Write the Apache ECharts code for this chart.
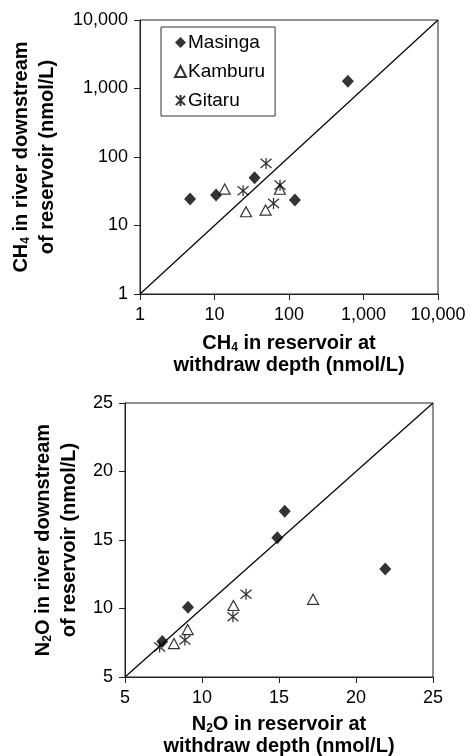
<!DOCTYPE html>
<html><head><meta charset="utf-8">
<script src="https://cdn.jsdelivr.net/npm/echarts@6/dist/echarts.min.js"></script>
<style>html,body{margin:0;padding:0;background:#fff}#c{width:470px;height:756px}</style>
</head><body><div id="c"></div>
<script>
const seriesNames = ['Masinga', 'Kamburu', 'Gitaru'];
const masingaCH4 = [[4.7, 24.4], [10.5, 27.8], [34.5, 49.7], [120, 23.6], [617, 1273]];
const kamburuCH4 = [[13.7, 34], [26.5, 15.9], [48.5, 16.8], [75.5, 33.8]];
const gitaruCH4 = [[24.2, 32.2], [49.2, 80.5], [62, 21], [75.8, 38.8]];
const masingaN2O = [[7.42, 7.6], [9.09, 10.1], [14.89, 15.17], [15.37, 17.09], [21.9, 12.88]];
const kamburuN2O = [[8.18, 7.44], [9.07, 8.46], [12.04, 10.22], [17.21, 10.67]];
const gitaruN2O = [[7.25, 7.19], [8.89, 7.7], [12.01, 9.4], [12.86, 11.04]];
const diagCH4 = [[1, 1], [10000, 10000]];
const diagN2O = [[5, 5], [25, 25]];
const ch4TickValues = [1, 10, 100, 1000, 10000];
const ch4TickLabels = ['1', '10', '100', '1,000', '10,000'];
const n2oTickValues = [5, 10, 15, 20, 25];
const n2oTickLabels = ['5', '10', '15', '20', '25'];

const FONT = 'Liberation Sans, Arial, sans-serif';
const INK = '#000';
const AX = '#222';
const asteriskPath = 'path://M0,0L10,10M10,0L0,10M5,-1L5,11';

function lookup(values, labels) {
  return function (v) {
    for (let i = 0; i < values.length; i++) {
      if (Math.abs(values[i] - v) / values[i] < 1e-6) return labels[i];
    }
    return '';
  };
}

const titleRich = {
  b: { fontFamily: FONT, fontSize: 20, fontWeight: 'bold', color: INK },
  s: { fontFamily: FONT, fontSize: 12, fontWeight: 'bold', color: INK, lineHeight: 12, padding: [10, 0, 0, 0] }
};
function nameStyle(lh) {
  const r = JSON.parse(JSON.stringify(titleRich));
  r.b.lineHeight = lh;
  return { fontFamily: FONT, fontSize: 20, fontWeight: 'bold', color: INK, lineHeight: lh, rich: r };
}

function axisCommon() {
  return {
    axisLine: { show: true, lineStyle: { color: AX, width: 1 } },
    axisTick: { show: true, inside: false, length: 6, lineStyle: { color: AX, width: 1 } },
    axisLabel: { fontFamily: FONT, fontSize: 18, color: INK, margin: 12 },
    splitLine: { show: false },
    minorTick: { show: false }
  };
}

const markerStyles = [
  { symbol: 'diamond', symbolSize: [12, 13], itemStyle: { color: INK, borderWidth: 0 } },
  { symbol: 'triangle', symbolSize: [11, 10], itemStyle: { color: '#fff', borderColor: INK, borderWidth: 1.2 } },
  { symbol: asteriskPath, symbolSize: 11, itemStyle: { color: 'transparent', borderColor: INK, borderWidth: 1.3 } }
];

const ch4Data = [masingaCH4, kamburuCH4, gitaruCH4];
const n2oData = [masingaN2O, kamburuN2O, gitaruN2O];

const series = [
  { type: 'line', name: 'diag1', xAxisIndex: 0, yAxisIndex: 0, data: diagCH4, symbol: 'none', silent: true,
    lineStyle: { color: INK, width: 1.2 }, z: 1 },
  { type: 'line', name: 'diag2', xAxisIndex: 1, yAxisIndex: 1, data: diagN2O, symbol: 'none', silent: true,
    lineStyle: { color: INK, width: 1.2 }, z: 1 }
];
seriesNames.forEach(function (n, i) {
  series.push(Object.assign({ type: 'scatter', name: n, xAxisIndex: 0, yAxisIndex: 0, data: ch4Data[i], z: 3 }, markerStyles[i]));
  series.push(Object.assign({ type: 'scatter', name: n, xAxisIndex: 1, yAxisIndex: 1, data: n2oData[i], z: 3 }, markerStyles[i]));
});

const chart = echarts.init(document.getElementById('c'), null, { renderer: 'canvas' });
chart.setOption({
  animation: false,
  backgroundColor: '#fff',
  grid: [
    { left: 140, top: 20, width: 298, height: 274, show: true, borderColor: AX, borderWidth: 1, backgroundColor: 'transparent', outerBoundsMode: 'none', containLabel: false },
    { left: 125, top: 403, width: 308, height: 274, show: true, borderColor: AX, borderWidth: 1, backgroundColor: 'transparent', outerBoundsMode: 'none', containLabel: false }
  ],
  legend: {
    data: seriesNames,
    orient: 'vertical',
    left: 161, top: 27,
    padding: [6, 10, 6, 13],
    itemGap: 10,
    itemWidth: 11, itemHeight: 11,
    borderColor: '#333', borderWidth: 1, backgroundColor: '#fff',
    selectedMode: false,
    textStyle: { fontFamily: FONT, fontSize: 19, color: INK, padding: [0, 0, 0, -3] }
  },
  xAxis: [
    Object.assign(axisCommon(), {
      gridIndex: 0, type: 'log', logBase: 10, min: 1, max: 10000,
      name: '{b|CH}{s|4}{b| in reservoir at}\n{b|withdraw depth (nmol/L)}',
      nameLocation: 'middle', nameGap: 38, nameTextStyle: nameStyle(22),
      axisLabel: { fontFamily: FONT, fontSize: 18, color: INK, margin: 12, formatter: lookup(ch4TickValues, ch4TickLabels) }
    }),
    Object.assign(axisCommon(), {
      gridIndex: 1, type: 'value', min: 5, max: 25, interval: 5,
      name: '{b|N}{s|2}{b|O in reservoir at}\n{b|withdraw depth (nmol/L)}',
      nameLocation: 'middle', nameGap: 36, nameTextStyle: nameStyle(22),
      axisLabel: { fontFamily: FONT, fontSize: 18, color: INK, margin: 12, formatter: lookup(n2oTickValues, n2oTickLabels) }
    })
  ],
  yAxis: [
    Object.assign(axisCommon(), {
      gridIndex: 0, type: 'log', logBase: 10, min: 1, max: 10000,
      name: '{b|CH}{s|4}{b| in river downstream}\n{b|of reservoir (nmol/L)}',
      nameLocation: 'middle', nameGap: 80, nameRotate: 90, nameTextStyle: nameStyle(26),
      axisLabel: { fontFamily: FONT, fontSize: 18, color: INK, margin: 12, formatter: lookup(ch4TickValues, ch4TickLabels) }
    }),
    Object.assign(axisCommon(), {
      gridIndex: 1, type: 'value', min: 5, max: 25, interval: 5,
      name: '{b|N}{s|2}{b|O in river downstream}\n{b|of reservoir (nmol/L)}',
      nameLocation: 'middle', nameGap: 41, nameRotate: 90, nameTextStyle: nameStyle(26),
      axisLabel: { fontFamily: FONT, fontSize: 18, color: INK, margin: 12, formatter: lookup(n2oTickValues, n2oTickLabels) }
    })
  ],
  series: series
});
</script>
</body></html>
